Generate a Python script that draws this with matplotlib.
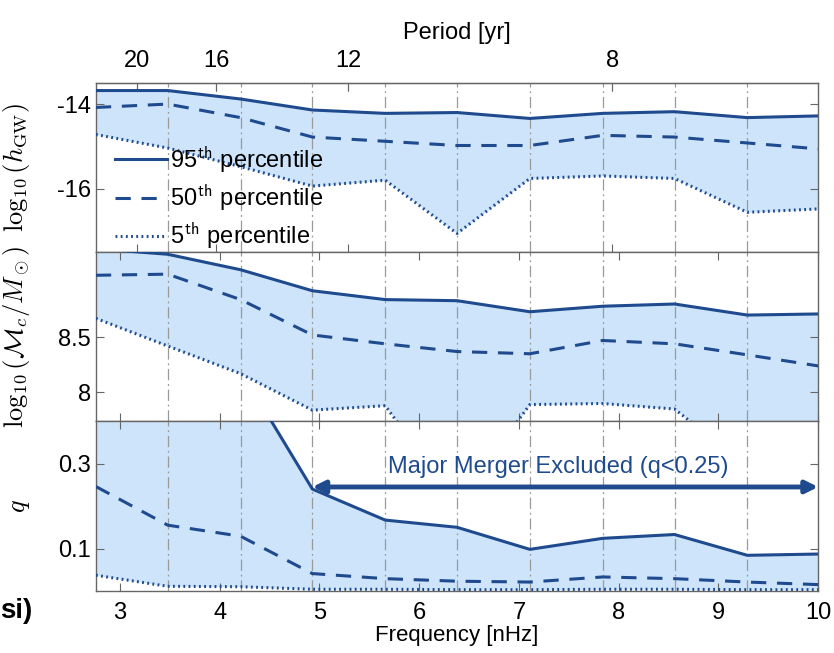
import matplotlib
matplotlib.use("Agg")
import matplotlib.pyplot as plt

plt.rcParams["font.family"] = ["Liberation Sans", "DejaVu Sans"]
plt.rcParams["mathtext.fontset"] = "cm"
plt.rcParams["axes.unicode_minus"] = False

# frequency bins [nHz]
freqs = [2.76, 3.48, 4.21, 4.93, 5.66, 6.38, 7.11, 7.84, 8.56, 9.29, 10.0]
grid_freqs = [3.48, 4.21, 4.93, 5.66, 6.38, 7.11, 7.84, 8.56, 9.29]

# log10(h_GW) percentiles
h_95 = [-13.68, -13.68, -13.88, -14.14, -14.22, -14.20, -14.34, -14.22, -14.18, -14.32, -14.28]
h_50 = [-14.08, -14.00, -14.32, -14.78, -14.88, -14.98, -14.98, -14.74, -14.78, -14.92, -15.06]
h_5 = [-14.72, -15.04, -15.48, -15.94, -15.80, -17.06, -15.76, -15.70, -15.76, -16.56, -16.48]

# log10(Mc/Msun) percentiles
mc_95 = [9.30, 9.25, 9.11, 8.92, 8.84, 8.83, 8.73, 8.78, 8.80, 8.70, 8.71]
mc_50 = [9.06, 9.07, 8.84, 8.52, 8.44, 8.37, 8.35, 8.47, 8.44, 8.34, 8.24]
mc_5 = [8.67, 8.42, 8.17, 7.84, 7.88, 7.00, 7.89, 7.90, 7.85, 7.33, 7.30]

# mass ratio q percentiles
q_95 = [0.90, 0.75, 0.52, 0.24, 0.167, 0.15, 0.098, 0.124, 0.133, 0.084, 0.087]
q_50 = [0.246, 0.155, 0.129, 0.041, 0.029, 0.023, 0.021, 0.033, 0.029, 0.021, 0.015]
q_5 = [0.037, 0.011, 0.010, 0.004, 0.004, 0.003, 0.003, 0.004, 0.004, 0.003, 0.003]

period_ticks = [20, 16, 12, 8]
PCONST = 63.5  # period [yr] = PCONST / f [nHz]

line_c = "#1f4b8e"
fill_c = "#cde4fa"
grid_c = "#9a9a9a"
spine_c = "#666666"

fig = plt.figure(figsize=(8.34, 6.53), dpi=100)
left, width = 0.115, 0.866
ax1 = fig.add_axes([left, 0.614, width, 0.259])
ax2 = fig.add_axes([left, 0.355, width, 0.259])
ax3 = fig.add_axes([left, 0.095, width, 0.26])

panels = [
    (ax1, h_95, h_50, h_5, (-17.5, -13.5), [-16, -14], r"$\log_{10}(h_{\rm GW})$"),
    (ax2, mc_95, mc_50, mc_5, (7.74, 9.27), [8, 8.5], r"$\log_{10}(\mathcal{M}_c/M_\odot)$"),
    (ax3, q_95, q_50, q_5, (0.0, 0.4), [0.1, 0.3], r"$q$"),
]

for ax, p95, p50, p5, ylim, yt, ylab in panels:
    ax.fill_between(freqs, p5, p95, color=fill_c, lw=0, zorder=1)
    for gf in grid_freqs:
        ax.axvline(gf, color=grid_c, lw=0.9, ls=(0, (9, 3, 1.5, 3)), zorder=2)
    ax.plot(freqs, p95, color=line_c, lw=2.2, ls="-", zorder=3, label="95$^{\\mathsf{th}}$ percentile")
    ax.plot(freqs, p50, color=line_c, lw=2.2, ls=(0, (5, 3.5)), zorder=3, label="50$^{\\mathsf{th}}$ percentile")
    ax.plot(freqs, p5, color=line_c, lw=2.2, ls=(0, (0.6, 1.1)), zorder=3, label="5$^{\\mathsf{th}}$ percentile")
    ax.set_xlim(2.76, 10.0)
    ax.set_ylim(*ylim)
    ax.set_yticks(yt)
    ax.set_yticklabels([str(v) for v in yt])
    ax.set_ylabel(ylab, fontsize=19)
    ax.yaxis.set_label_coords(-0.088, 0.5)
    ax.tick_params(direction="in", top=True, right=True, length=6, width=0.8,
                   color=spine_c, labelsize=17)
    for s in ax.spines.values():
        s.set_color(spine_c)
        s.set_linewidth(1.0)

ax1.set_xticks([PCONST / p for p in period_ticks])
ax1.tick_params(labelbottom=False)
ax2.set_xticks(range(3, 11))
ax2.tick_params(labelbottom=False)
ax3.set_xticks(range(3, 11))
ax3.tick_params(axis="x", pad=8)
ax3.set_xlabel("Frequency [nHz]", fontsize=16, labelpad=1)

sec = ax1.secondary_xaxis("top", functions=(lambda f: PCONST / f, lambda p: PCONST / p))
sec.set_xticks(period_ticks)
sec.set_xticklabels([str(p) for p in period_ticks])
sec.tick_params(direction="in", length=6, width=0.8, color=spine_c, labelsize=17, pad=8)
sec.set_xlabel("Period [yr]", fontsize=17, labelpad=8)

leg = ax1.legend(loc="center left", bbox_to_anchor=(0.026, 0.32), frameon=False,
                 fontsize=17, handlelength=2.2, handletextpad=0.15, labelspacing=0.35,
                 borderpad=0, borderaxespad=0)
leg.set_zorder(10)

ax3.annotate("", xy=(10.0, 0.245), xytext=(4.93, 0.245),
             arrowprops=dict(arrowstyle="<|-|>", color=line_c, lw=3.5,
                             mutation_scale=18, shrinkA=0, shrinkB=0), zorder=5)
ax3.text(7.39, 0.292, "Major Merger Excluded (q<0.25)", color=line_c, fontsize=17,
         ha="center", va="center", zorder=5)

fig.text(0.0, 0.064, "si)", fontsize=20, fontweight="bold", ha="left", va="center")

fig.savefig("out.png", dpi=100)
